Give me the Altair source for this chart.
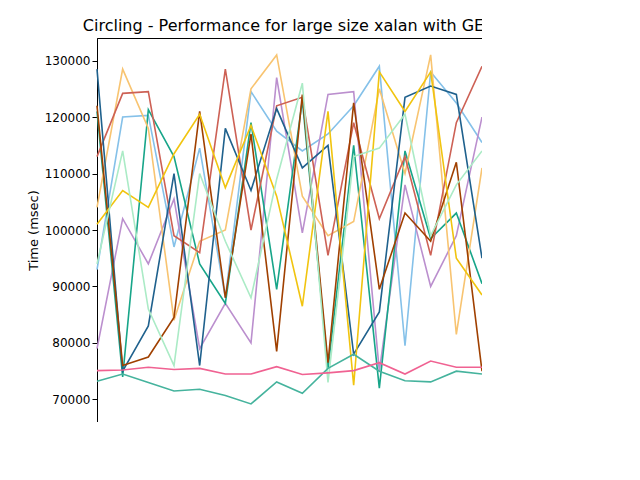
import pandas as pd
import altair as alt

runs = list(range(1, 17))
series = {
    "JDK0.5-0.5-1": [93000, 120000, 120300, 97000, 114500, 88000, 124500, 117500, 114000, 117000, 122000, 129000, 79500, 128000, 122500, 115500],
    "JDK0.5-1-0.5": [79000, 102000, 94000, 105500, 79000, 87000, 80000, 127000, 99500, 124000, 124500, 75000, 108000, 90000, 99000, 120000],
    "JDK0.5-1-1": [121000, 74000, 121300, 113000, 94000, 87000, 119000, 89500, 123000, 75500, 115000, 72000, 114000, 98500, 103000, 90500],
    "JDK0.5-1-1.5": [104000, 128500, 118000, 84000, 98000, 100000, 125000, 131000, 106000, 99000, 101500, 125000, 110000, 131000, 81500, 111000],
    "JDK1-1-0.5": [113000, 124200, 124500, 99000, 96000, 128500, 100000, 122000, 123500, 95500, 119000, 102000, 113000, 95500, 119000, 129000],
    "JDK1-1-1": [128500, 75000, 83000, 110000, 76000, 118000, 107000, 121500, 111000, 115000, 78000, 85500, 123500, 125500, 124000, 95000],
    "JDK1.5-1-0.5": [122000, 76000, 77500, 84500, 121000, 88000, 117000, 78500, 124000, 76500, 122500, 89500, 103000, 98000, 112000, 75000],
    "JDK1.5-1-1": [101000, 107000, 104000, 113500, 120500, 107500, 118500, 106000, 86500, 121000, 72500, 128000, 121000, 128000, 95000, 88500],
    "JDK1.5-1-1.5": [94000, 114000, 86000, 76000, 110000, 98000, 88000, 109000, 126000, 73000, 113000, 114500, 120500, 99000, 108000, 114000],
    "JDKE": [73200, 74500, 73000, 71500, 71800, 70700, 69200, 73100, 71100, 75500, 78000, 75000, 73300, 73100, 75000, 74500],
    "JDKF": [75100, 75200, 75700, 75300, 75500, 74500, 74500, 75800, 74400, 74700, 75100, 76500, 74500, 76800, 75700, 75700],
}
colors = ["#85c1e9", "#bb8fce", "#17a589", "#f8c471", "#cd6155", "#1f618d",
          "#a04000", "#f1c40f", "#abebc6", "#45b39d", "#f06292"]
names = list(series.keys())

rows = []
for name, vals in series.items():
    for r, v in zip(runs, vals):
        rows.append({"run": r, "time": v, "jvm": name})
df = pd.DataFrame(rows)

chart = alt.Chart(df).mark_line(strokeWidth=1.6).encode(
    x=alt.X("run:Q", title="Run Iteration", scale=alt.Scale(domain=[1, 16], nice=False),
            axis=alt.Axis(values=[2, 4, 6, 8, 10, 12, 14, 16], grid=False)),
    y=alt.Y("time:Q", title="Time (msec)", scale=alt.Scale(domain=[66000, 134000], nice=False, zero=False),
            axis=alt.Axis(values=[70000, 80000, 90000, 100000, 110000, 120000, 130000], grid=False, format="d")),
    color=alt.Color("jvm:N", sort=names, scale=alt.Scale(domain=names, range=colors),
                    legend=alt.Legend(title=None, orient="none", legendX=390, legendY=5,
                                      symbolType="stroke", symbolStrokeWidth=2, labelFontSize=12,
                                      strokeColor="#cccccc", padding=6, cornerRadius=3,
                                      fillColor="white", rowPadding=4)),
    order="run:Q",
).properties(
    width=385, height=384,
    title=alt.Title("Circling - Performance for large size xalan with GEN", fontSize=16,
                    fontWeight="normal", anchor="middle"),
    autosize=alt.AutoSizeParams(type="none"),
    padding={"left": 89, "top": 30, "right": 0, "bottom": 0},
).configure_view(stroke="black").configure_axis(
    labelFontSize=12, titleFontSize=13, titleFontWeight="normal", domainColor="black",
    tickColor="black", labelColor="black", titleColor="black",
    labelFont="DejaVu Sans", titleFont="DejaVu Sans"
).configure_legend(labelFont="DejaVu Sans").configure_title(font="DejaVu Sans", color="black")

chart.save("out.html", embed_options={"renderer": "svg", "actions": False})
